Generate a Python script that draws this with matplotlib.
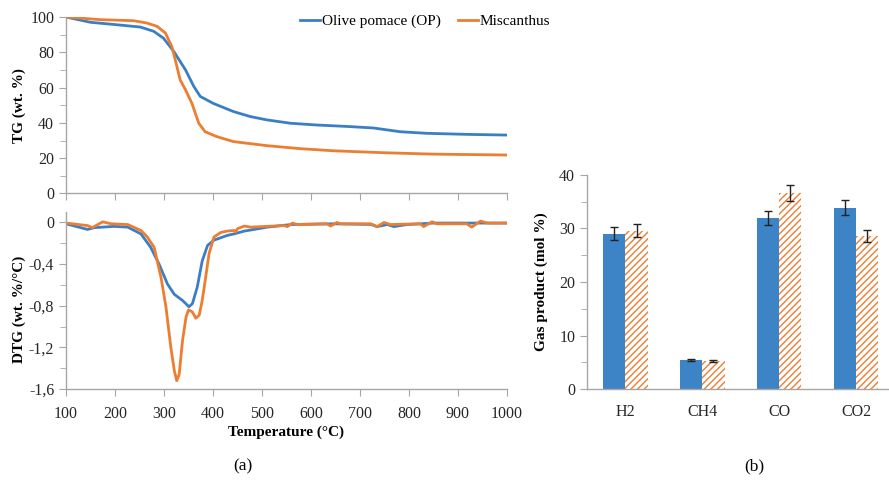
import numpy as np
import matplotlib.pyplot as plt
from matplotlib.ticker import MultipleLocator, FuncFormatter

plt.rcParams['font.family'] = ['Liberation Serif', 'DejaVu Serif']
plt.rcParams['hatch.linewidth'] = 1.0

BLUE = '#3A7FC6'
ORANGE = '#ED7D31'
GRAY = '#A6A6A6'

# TG curves (wt. %) vs temperature (C)
tg_op_T = [100, 150, 204, 252, 279, 299, 320, 344, 361, 374, 401, 442, 476, 510,
           558, 612, 680, 728, 782, 836, 918, 1000]
tg_op = [100, 97.0, 95.6, 94.3, 91.9, 88.0, 80.5, 70.0, 60.6, 55.0, 51.0, 46.4, 43.6,
         41.7, 39.8, 38.8, 37.9, 37.1, 35.0, 34.1, 33.5, 33.1]
tg_mis_T = [100, 170, 238, 265, 286, 303, 316, 323, 333, 344, 357, 371, 384, 408,
            442, 510, 578, 646, 748, 850, 1000]
tg_mis = [100, 98.5, 97.9, 96.6, 94.7, 90.9, 83.3, 75.8, 64.4, 58.7, 51.1, 39.8, 35.0,
          32.2, 29.4, 27.1, 25.4, 24.2, 23.1, 22.3, 21.8]

# DTG curves (wt. %/C)
dtg_op_T = [100, 144, 158, 198, 226, 253, 273, 290, 307, 321, 338, 351, 358, 368, 378,
            389, 402, 429, 443, 464, 511, 559, 646, 722, 735, 756, 769, 796, 850, 1000]
dtg_op = [-0.013, -0.067, -0.05, -0.038, -0.045, -0.11, -0.24, -0.40, -0.59, -0.69,
          -0.75, -0.81, -0.78, -0.62, -0.37, -0.22, -0.17, -0.125, -0.11, -0.083,
          -0.045, -0.02, -0.013, -0.019, -0.04, -0.02, -0.04, -0.02, -0.006, -0.006]
dtg_mis_T = [100, 144, 154, 165, 175, 192, 226, 253, 266, 280, 294, 304, 314, 321, 326,
             331, 338, 345, 350, 358, 365, 372, 378, 385, 392, 402, 416, 429, 443, 446,
             450, 464, 477, 545, 552, 562, 572, 633, 640, 653, 660, 722, 735, 749, 762,
             823, 830, 847, 857, 918, 928, 946, 960, 1000]
dtg_mis = [-0.006, -0.03, -0.05, -0.02, 0.006, -0.013, -0.02, -0.077, -0.14, -0.24,
           -0.53, -0.81, -1.2, -1.42, -1.52, -1.46, -1.13, -0.91, -0.84, -0.86, -0.92,
           -0.89, -0.75, -0.53, -0.30, -0.14, -0.096, -0.083, -0.077, -0.093, -0.06,
           -0.035, -0.045, -0.03, -0.04, -0.006, -0.02, -0.013, -0.035, 0.0, -0.013,
           -0.013, -0.04, 0.0, -0.02, -0.013, -0.04, 0.006, -0.013, -0.013, -0.045,
           0.013, -0.006, -0.006]

# gas composition (mol %)
gases = ['H2', 'CH4', 'CO', 'CO2']
gas_op = [29.0, 5.4, 31.9, 33.9]
gas_op_err = [1.2, 0.2, 1.3, 1.4]
gas_mis = [29.6, 5.3, 36.7, 28.6]
gas_mis_err = [1.2, 0.2, 1.5, 1.1]

fig = plt.figure(figsize=(8.89, 4.83), dpi=100)
ax1 = fig.add_axes([0.0742, 0.5994, 0.4961, 0.3654])
ax2 = fig.add_axes([0.0742, 0.1946, 0.4961, 0.3664])
ax3 = fig.add_axes([0.6603, 0.1946, 0.3397, 0.4431])


def style(ax):
    for s in ['top', 'right']:
        ax.spines[s].set_visible(False)
    for s in ['left', 'bottom']:
        ax.spines[s].set_color(GRAY)
        ax.spines[s].set_linewidth(1.0)
    ax.tick_params(which='both', color=GRAY, direction='out', labelsize=11.5,
                   labelcolor='#262626')
    ax.tick_params(which='major', length=5)
    ax.tick_params(which='minor', length=4)


l1, = ax1.plot(tg_op_T, tg_op, color=BLUE, lw=2, label='Olive pomace (OP)')
l2, = ax1.plot(tg_mis_T, tg_mis, color=ORANGE, lw=2, label='Miscanthus')
ax1.set_xlim(100, 1000)
ax1.set_ylim(0, 100)
ax1.xaxis.set_major_locator(MultipleLocator(100))
ax1.yaxis.set_major_locator(MultipleLocator(20))
ax1.yaxis.set_minor_locator(MultipleLocator(10))
ax1.tick_params(axis='x', labelbottom=False)
ax1.set_ylabel('TG (wt. %)', fontsize=11, fontweight='bold')
style(ax1)

ax2.plot(dtg_op_T, dtg_op, color=BLUE, lw=2)
ax2.plot(dtg_mis_T, dtg_mis, color=ORANGE, lw=2)
ax2.set_xlim(100, 1000)
ax2.set_ylim(-1.6, 0.1)
ax2.xaxis.set_major_locator(MultipleLocator(100))
ax2.yaxis.set_major_locator(MultipleLocator(0.4))
ax2.yaxis.set_minor_locator(MultipleLocator(0.2))
ax2.yaxis.set_major_formatter(FuncFormatter(
    lambda v, p: '0' if abs(v) < 1e-9 else ('%.1f' % v).replace('.', ',')))
ax2.set_xlabel('Temperature (°C)', fontsize=11, fontweight='bold', labelpad=3)
ax2.set_ylabel('DTG (wt. %/°C)', fontsize=11, fontweight='bold')
style(ax2)
ax2.tick_params(axis='x', pad=7)
ax2.yaxis.set_label_coords(-0.09, 0.45)
ax1.yaxis.set_label_coords(-0.09, 0.5)

fig.legend(handles=[l1, l2], loc='upper left', bbox_to_anchor=(0.322, 0.999),
           ncol=2, frameon=False, fontsize=11, handlelength=1.3,
           handletextpad=0.15, columnspacing=1.1)

x = np.arange(len(gases))
w = 0.29
ax3.bar(x - w / 2, gas_op, w, color='#3D84C6', linewidth=0)
ax3.bar(x + w / 2, gas_mis, w, color='white', edgecolor=ORANGE, hatch='/////',
        linewidth=0)
ax3.errorbar(x - w / 2, gas_op, yerr=gas_op_err, fmt='none', ecolor='#222222',
             elinewidth=1, capsize=3, capthick=1)
ax3.errorbar(x + w / 2, gas_mis, yerr=gas_mis_err, fmt='none', ecolor='#222222',
             elinewidth=1, capsize=3, capthick=1)
ax3.set_xlim(-0.5, 3.43)
ax3.set_ylim(0, 40)
ax3.set_xticks(x)
ax3.set_xticklabels(gases)
ax3.yaxis.set_major_locator(MultipleLocator(10))
ax3.yaxis.set_minor_locator(MultipleLocator(5))
ax3.set_ylabel('Gas product (mol %)', fontsize=11, fontweight='bold', labelpad=8)
style(ax3)
ax3.tick_params(axis='x', length=0, pad=11)

fig.text(243 / 889, 1 - 466 / 483, '(a)', fontsize=12.5, ha='center', va='center')
fig.text(754 / 889, 1 - 466 / 483, '(b)', fontsize=12.5, ha='center', va='center')

fig.savefig('out.png', dpi=100)
